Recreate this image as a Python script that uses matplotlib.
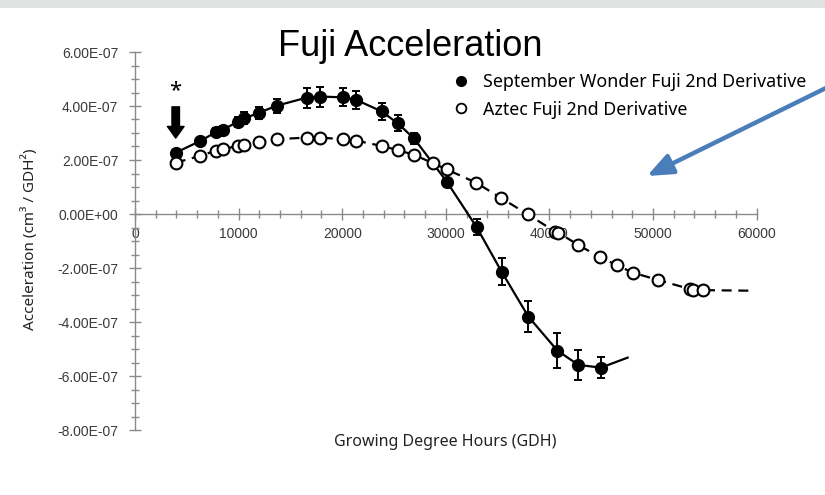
import matplotlib
matplotlib.use("Agg")
import matplotlib.pyplot as plt
from matplotlib import font_manager
from matplotlib.lines import Line2D
from matplotlib.patches import Rectangle
from matplotlib.ticker import MultipleLocator, FuncFormatter
import matplotlib.patheffects as pe

# September Wonder Fuji: sample GDH, 2nd derivative (x1e-7) and error
sw_gdh = [3930, 6270, 7820, 8460, 9910, 10550, 11970, 13670, 16570, 17860,
          20110, 21330, 23810, 25350, 26930, 30090, 32980, 35390, 37970,
          40770, 42800, 44980]
sw_acc = [2.27, 2.70, 3.03, 3.11, 3.42, 3.54, 3.75, 4.01, 4.31, 4.35,
          4.32, 4.23, 3.80, 3.36, 2.80, 1.20, -0.49, -2.14, -3.80,
          -5.06, -5.59, -5.69]
sw_err = [0.05, 0.10, 0.14, 0.14, 0.18, 0.22, 0.22, 0.26, 0.37, 0.37,
          0.33, 0.33, 0.30, 0.30, 0.20, 0.05, 0.30, 0.50, 0.56,
          0.64, 0.55, 0.40]
# fitted curve tail past the last sample
sw_tail_gdh = [47550]
sw_tail_acc = [-5.32]

# Aztec Fuji
az_gdh = [3930, 6270, 7820, 8460, 9910, 10550, 11970, 13670, 16570, 17860,
          20110, 21330, 23810, 25350, 26930, 28790, 30090, 32920, 35300,
          37900, 40540, 40860, 42800, 44880, 46490, 48030, 50450, 53570,
          53890, 54860]
az_acc = [1.90, 2.15, 2.35, 2.40, 2.52, 2.56, 2.68, 2.77, 2.83, 2.83,
          2.77, 2.72, 2.52, 2.37, 2.19, 1.88, 1.65, 1.16, 0.60,
          -0.01, -0.65, -0.69, -1.15, -1.60, -1.89, -2.17, -2.44, -2.78,
          -2.80, -2.82]
az_tail_gdh = [59200]
az_tail_acc = [-2.84]

scale = 1e-7
sw_y = [v * scale for v in sw_acc]
sw_e = [v * scale for v in sw_err]
az_y = [v * scale for v in az_acc]


def pick(names):
    have = {f.name for f in font_manager.fontManager.ttflist}
    for n in names:
        if n in have:
            return n
    return "DejaVu Sans"


narrow = pick(["Liberation Sans Narrow", "Liberation Sans", "DejaVu Sans"])
body = pick(["Noto Sans", "Open Sans", "DejaVu Sans"])

W, H = 825, 495
fig = plt.figure(figsize=(8.25, 4.95), dpi=100)
fig.patches.append(Rectangle((0, 1 - 8 / H), 1, 8 / H, transform=fig.transFigure,
                             facecolor="#e1e3e3", edgecolor="none", zorder=0))

ax = fig.add_axes([135 / W, 1 - 430 / H, (756.6 - 135) / W, (430 - 52) / H])
ax.set_xlim(0, 60000)
ax.set_ylim(-8e-7, 6e-7)

for s in ["top", "right"]:
    ax.spines[s].set_visible(False)
ax.spines["bottom"].set_position(("data", 0))
ax.spines["left"].set_position(("data", 0))
for s in ["bottom", "left"]:
    ax.spines[s].set_color("#8a8a8a")
    ax.spines[s].set_linewidth(1.0)

ax.xaxis.set_major_locator(MultipleLocator(10000))
ax.xaxis.set_minor_locator(MultipleLocator(2000))
ax.yaxis.set_major_locator(MultipleLocator(2e-7))
ax.yaxis.set_minor_locator(MultipleLocator(5e-8))
ax.yaxis.set_major_formatter(FuncFormatter(
    lambda v, p: "0.00E+00" if abs(v) < 1e-12 else "%.2E" % v))
ax.xaxis.set_major_formatter(FuncFormatter(lambda v, p: "%d" % v))
ax.tick_params(which="both", direction="inout", color="#8a8a8a", width=1.0)
ax.tick_params(which="major", length=8)
ax.tick_params(which="minor", length=6)
ax.tick_params(axis="x", which="major", pad=5)
ax.tick_params(axis="y", which="major", pad=8)
for lab in ax.get_xticklabels() + ax.get_yticklabels():
    lab.set_fontfamily(narrow)
    lab.set_fontsize(10)
    lab.set_color("#3a3a3a")

# fitted curves
ax.plot(sw_gdh + sw_tail_gdh, sw_y + [v * scale for v in sw_tail_acc],
        color="black", lw=1.6, zorder=3, clip_on=False)
ax.plot(az_gdh + az_tail_gdh, az_y + [v * scale for v in az_tail_acc],
        color="black", lw=1.6, ls=(0, (4.5, 3)), zorder=4, clip_on=False)

ax.errorbar(sw_gdh, sw_y, yerr=sw_e, fmt="o", color="black", ms=8.5,
            ecolor="black", elinewidth=1.4, capsize=2.6, capthick=1.4, zorder=5)
ax.plot(az_gdh, az_y, "o", ms=8.5, mfc="white", mec="black", mew=1.5, zorder=6)

# first-sample marker
ax.annotate("", xy=(sw_gdh[0], sw_y[0]), xytext=(0, 33), textcoords="offset points",
            arrowprops=dict(arrowstyle="simple,head_width=1.0,head_length=0.7,tail_width=0.45",
                            mutation_scale=12, color="black", shrinkA=0, shrinkB=10.5))
ax.annotate("*", xy=(sw_gdh[0], sw_y[0]), xytext=(0, 37), textcoords="offset points",
            ha="center", va="bottom", fontsize=16, fontfamily=body)

fig.text(410 / W, 1 - 46 / H, "Fuji Acceleration", ha="center", va="center",
         fontsize=26, fontfamily=narrow)
fig.text(445 / W, 1 - 442 / H, "Growing Degree Hours (GDH)", ha="center", va="center",
         fontsize=11.5, fontfamily=body, color="#222222")
fig.text(30 / W, 1 - 239 / H, "Acceleration (cm³ / GDH²)", ha="center", va="center",
         rotation=90, fontsize=11, fontfamily=body, color="#222222")

handles = [Line2D([], [], ls="none", marker="o", ms=7, color="black"),
           Line2D([], [], ls="none", marker="o", ms=7, mfc="white", mec="black", mew=1.3)]
fig.legend(handles, ["September Wonder Fuji 2nd Derivative", "Aztec Fuji 2nd Derivative"],
           loc="upper left", bbox_to_anchor=(447 / W, 1 - 64 / H), frameon=False,
           borderpad=0, handlelength=0.6, handletextpad=0.9, labelspacing=0.55,
           prop={"family": body, "size": 12.8})

fig.add_artist(plt.Annotation("", xy=(647, H - 176), xycoords="figure pixels",
                              xytext=(830, H - 86), textcoords="figure pixels",
                              arrowprops=dict(arrowstyle="-|>,head_width=0.45,head_length=1.1",
                                              mutation_scale=14, color="#4a7ebb", lw=3.2,
                                              shrinkA=0, shrinkB=0,
                                              path_effects=[pe.SimplePatchShadow(offset=(1.5, -1.5), alpha=0.25),
                                                            pe.Normal()])))

fig.savefig("out.png", dpi=100)
